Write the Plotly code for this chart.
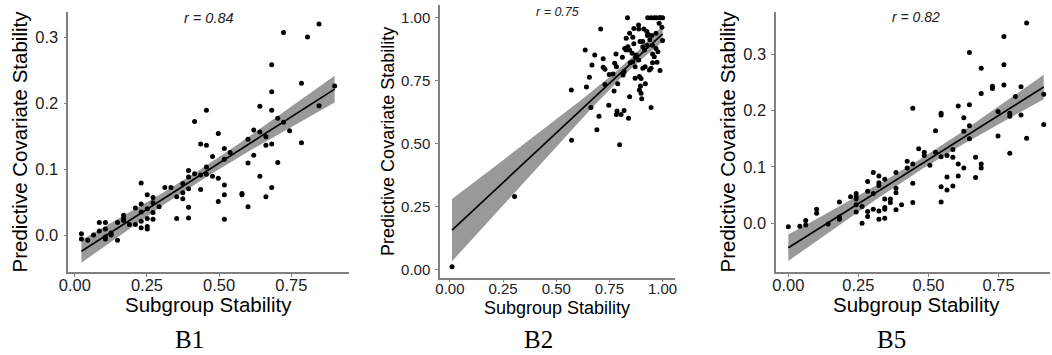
import numpy as np
import plotly.graph_objects as go

# ---------------- data ----------------
b1_x = [0.023, 0.023, 0.045, 0.065, 0.085, 0.085, 0.106, 0.106, 0.106, 0.106, 0.126, 0.126,
        0.148, 0.148, 0.169, 0.169, 0.169, 0.189, 0.210, 0.210, 0.230, 0.230, 0.230, 0.230,
        0.230, 0.251, 0.251, 0.251, 0.251, 0.251, 0.271, 0.271, 0.271, 0.271, 0.292, 0.312,
        0.333, 0.353, 0.353, 0.374, 0.374, 0.374, 0.394, 0.394, 0.394, 0.394, 0.394, 0.415,
        0.415, 0.436, 0.436, 0.436, 0.456, 0.456, 0.456, 0.456, 0.477, 0.477, 0.497, 0.497,
        0.497, 0.518, 0.518, 0.518, 0.518, 0.518, 0.538, 0.579, 0.579, 0.600, 0.600, 0.600,
        0.620, 0.620, 0.641, 0.641, 0.641, 0.662, 0.662, 0.662, 0.682, 0.682, 0.682, 0.682,
        0.682, 0.703, 0.703, 0.723, 0.723, 0.744, 0.785, 0.785, 0.806, 0.846, 0.846, 0.900]
b1_y = [0.002, -0.006, -0.008, 0.000, 0.019, 0.006, 0.019, 0.009, -0.003, -0.006, 0.003, 0.000,
        -0.008, 0.019, 0.030, 0.025, 0.022, 0.016, 0.041, 0.016, 0.079, 0.047, 0.035, 0.021,
        0.011, 0.061, 0.040, 0.025, 0.013, 0.009, 0.057, 0.049, 0.034, 0.024, 0.043, 0.072,
        0.072, 0.058, 0.025, 0.078, 0.064, 0.055, 0.098, 0.088, 0.070, 0.042, 0.026, 0.172,
        0.093, 0.138, 0.091, 0.069, 0.189, 0.136, 0.103, 0.092, 0.119, 0.089, 0.154, 0.086,
        0.051, 0.131, 0.115, 0.076, 0.061, 0.024, 0.125, 0.063, 0.061, 0.145, 0.109, 0.043,
        0.159, 0.121, 0.195, 0.156, 0.089, 0.149, 0.136, 0.058, 0.258, 0.217, 0.189, 0.138,
        0.072, 0.177, 0.110, 0.307, 0.171, 0.158, 0.230, 0.140, 0.300, 0.320, 0.196, 0.226]

b2_x = [0.835, 0.930, 0.945, 0.960, 0.970, 0.985, 0.990, 1.000,
        0.709, 0.636, 0.681, 0.721, 0.781, 0.811, 0.668, 0.721, 0.729, 0.775, 0.656, 0.749,
        0.729, 0.642, 0.571, 0.772, 0.789, 0.815, 0.814, 0.663, 0.747, 0.786, 0.783, 0.805,
        0.819, 0.840, 0.701, 0.691, 0.572, 0.798, 0.304, 0.010, 0.845, 0.865, 0.887, 0.888,
        0.912, 0.926, 0.933, 0.949, 0.929, 0.940, 0.969, 0.984, 0.997, 1.000, 0.829, 0.860,
        0.865, 0.837, 0.822, 0.829, 0.845, 0.857, 0.876, 0.907, 0.915, 0.927, 0.953, 0.969,
        0.978, 0.907, 0.894, 0.953, 0.961, 0.974, 0.953, 0.988, 0.938, 0.946, 0.918, 0.888,
        0.873, 0.860, 0.848, 0.907, 0.871, 0.891, 0.899, 0.896, 0.919, 0.891, 0.899, 0.902,
        0.845, 0.946, 0.871, 0.783, 0.767, 0.819]
b2_y = [1.000, 1.000, 1.000, 1.000, 1.000, 1.000, 1.000, 1.000,
        0.955, 0.872, 0.852, 0.837, 0.856, 0.843, 0.812, 0.803, 0.795, 0.819, 0.763, 0.774,
        0.735, 0.725, 0.713, 0.709, 0.737, 0.780, 0.772, 0.643, 0.652, 0.629, 0.615, 0.615,
        0.631, 0.600, 0.608, 0.555, 0.513, 0.495, 0.289, 0.010, 0.938, 0.957, 0.971, 0.955,
        0.955, 0.945, 0.933, 0.929, 0.929, 0.912, 0.938, 0.978, 0.962, 0.909, 0.918, 0.922,
        0.896, 0.885, 0.878, 0.872, 0.872, 0.859, 0.852, 0.885, 0.872, 0.891, 0.891, 0.878,
        0.865, 0.905, 0.905, 0.856, 0.845, 0.823, 0.821, 0.790, 0.792, 0.799, 0.805, 0.832,
        0.843, 0.825, 0.821, 0.799, 0.759, 0.766, 0.758, 0.729, 0.737, 0.713, 0.700, 0.678,
        0.686, 0.643, 0.805, 0.805, 0.776, 0.786]

b5_x = [0.000, 0.041, 0.062, 0.062, 0.101, 0.101, 0.142, 0.182, 0.182, 0.182, 0.222, 0.242,
        0.242, 0.242, 0.242, 0.242, 0.263, 0.263, 0.283, 0.283, 0.283, 0.283, 0.303, 0.303,
        0.303, 0.323, 0.323, 0.323, 0.323, 0.323, 0.344, 0.344, 0.344, 0.344, 0.344, 0.364,
        0.364, 0.384, 0.384, 0.384, 0.384, 0.404, 0.424, 0.424, 0.444, 0.444, 0.444, 0.444,
        0.465, 0.485, 0.485, 0.505, 0.525, 0.525, 0.545, 0.545, 0.545, 0.545, 0.545, 0.566,
        0.566, 0.566, 0.587, 0.587, 0.587, 0.606, 0.606, 0.606, 0.626, 0.626, 0.626, 0.646,
        0.646, 0.646, 0.646, 0.668, 0.668, 0.688, 0.688, 0.688, 0.688, 0.728, 0.728, 0.748,
        0.748, 0.769, 0.769, 0.769, 0.790, 0.790, 0.790, 0.810, 0.830, 0.830, 0.850, 0.850,
        0.911, 0.911]
b5_y = [-0.006, -0.005, 0.005, -0.003, 0.025, 0.018, -0.001, 0.038, 0.011, 0.007, 0.047, 0.053,
        0.047, 0.043, 0.033, 0.020, 0.030, 0.000, 0.074, 0.057, 0.021, 0.012, 0.090, 0.053,
        0.025, 0.084, 0.072, 0.067, 0.022, 0.007, 0.078, 0.043, 0.028, 0.025, 0.009, 0.043,
        0.037, 0.090, 0.062, 0.054, 0.024, 0.033, 0.110, 0.098, 0.204, 0.105, 0.071, 0.037,
        0.132, 0.126, 0.120, 0.103, 0.164, 0.126, 0.195, 0.192, 0.118, 0.065, 0.038, 0.120,
        0.082, 0.059, 0.131, 0.117, 0.066, 0.208, 0.105, 0.084, 0.187, 0.163, 0.098, 0.303,
        0.210, 0.173, 0.150, 0.117, 0.081, 0.275, 0.230, 0.105, 0.098, 0.243, 0.239, 0.198,
        0.155, 0.331, 0.281, 0.245, 0.195, 0.190, 0.124, 0.225, 0.242, 0.192, 0.355, 0.151,
        0.229, 0.175]

panel_labels = ["B1", "B2", "B5"]
r_labels = ["r = 0.84", "r = 0.75", "r = 0.82"]

x_tickvals_1 = [0.0, 0.25, 0.5, 0.75]
x_ticktext_1 = ["0.00", "0.25", "0.50", "0.75"]
y_tickvals_1 = [0.0, 0.1, 0.2, 0.3]
y_ticktext_1 = ["0.0", "0.1", "0.2", "0.3"]
x_tickvals_2 = [0.0, 0.25, 0.5, 0.75, 1.0]
x_ticktext_2 = ["0.00", "0.25", "0.50", "0.75", "1.00"]
y_tickvals_2 = [0.0, 0.25, 0.5, 0.75, 1.0]
y_ticktext_2 = ["0.00", "0.25", "0.50", "0.75", "1.00"]

x_title = "Subgroup Stability"
y_title = "Predictive Covariate Stability"

T_CRIT = 1.985  # 95% two-sided t quantile for ~96 df


def lm_band(x, y, npts=80):
    x = np.asarray(x, float)
    y = np.asarray(y, float)
    n = len(x)
    slope, icpt = np.polyfit(x, y, 1)
    grid = np.linspace(x.min(), x.max(), npts)
    fit = icpt + slope * grid
    resid = y - (icpt + slope * x)
    s = np.sqrt(np.sum(resid ** 2) / (n - 2))
    xm = x.mean()
    sxx = np.sum((x - xm) ** 2)
    se = s * np.sqrt(1.0 / n + (grid - xm) ** 2 / sxx)
    return grid, fit, fit - T_CRIT * se, fit + T_CRIT * se


fig = go.Figure()

panels = [
    dict(x=b1_x, y=b1_y, xa="x", ya="y",
         xdom=[59 / 1052, 343 / 1052], ydom=[1 - 272 / 355, 1 - 12 / 355],
         xr=[-0.0223, 0.950], yr=[-0.056, 0.338],
         xtv=x_tickvals_1, xtt=x_ticktext_1, ytv=y_tickvals_1, ytt=y_ticktext_1,
         tick=16.5, title=20.5, rsize=14.5, rx=201.7, ry=18, labx=182,
         tx=201, ty=304),
    dict(x=b2_x, y=b2_y, xa="x2", ya="y2",
         xdom=[435 / 1052, 673 / 1052], ydom=[1 - 277.7 / 355, 1 - 5 / 355],
         xr=[-0.0465, 1.060], yr=[-0.0334, 1.0505],
         xtv=x_tickvals_2, xtt=x_ticktext_2, ytv=y_tickvals_2, ytt=y_ticktext_2,
         tick=15, title=18, rsize=12.5, rx=554, ry=11.7, labx=535,
         tx=553.5, ty=308),
    dict(x=b5_x, y=b5_y, xa="x3", ya="y3",
         xdom=[775 / 1052, 1.0], ydom=[1 - 272 / 355, 1 - 12 / 355],
         xr=[-0.0434, 0.9334], yr=[-0.0863, 0.3746],
         xtv=x_tickvals_1, xtt=x_ticktext_1, ytv=y_tickvals_1, ytt=y_ticktext_1,
         tick=16.5, title=20.5, rsize=14, rx=916.7, ry=17.3, labx=891.7,
         tx=917, ty=304),
]

FONT = "Liberation Sans, Arial, sans-serif"
AXC = "#808080"

layout_axes = {}
annotations = []
for i, p in enumerate(panels):
    g, fit, lo, hi = lm_band(p["x"], p["y"])
    fig.add_trace(go.Scatter(
        x=np.concatenate([g, g[::-1]]), y=np.concatenate([lo, hi[::-1]]),
        fill="toself", fillcolor="rgb(153,153,153)", line=dict(width=0),
        mode="lines", hoverinfo="skip", showlegend=False,
        xaxis=p["xa"], yaxis=p["ya"]))
    fig.add_trace(go.Scatter(
        x=p["x"], y=p["y"], mode="markers",
        marker=dict(color="black", size=5), showlegend=False,
        xaxis=p["xa"], yaxis=p["ya"]))
    fig.add_trace(go.Scatter(
        x=g, y=fit, mode="lines", line=dict(color="black", width=1.6),
        showlegend=False, xaxis=p["xa"], yaxis=p["ya"]))

    suffix = "" if i == 0 else str(i + 1)
    common = dict(showgrid=False, zeroline=False, showline=True, linecolor=AXC,
                  linewidth=1.5, ticks="outside", ticklen=3, tickwidth=1,
                  tickcolor=AXC, tickfont=dict(family=FONT, size=p["tick"], color="#222"))
    layout_axes["xaxis" + suffix] = dict(
        common, domain=p["xdom"], range=p["xr"], tickvals=p["xtv"], ticktext=p["xtt"],
        anchor="y" + suffix, ticklabelstandoff=-6)
    layout_axes["yaxis" + suffix] = dict(
        common, domain=p["ydom"], range=p["yr"], tickvals=p["ytv"], ticktext=p["ytt"],
        anchor="x" + suffix, ticklabelstandoff=2,
        title=dict(text=y_title, font=dict(family=FONT, size=p["title"], color="black"),
                   standoff=2))
    # x-axis title, placed as an annotation for exact vertical position
    annotations.append(dict(
        text=x_title, xref="paper", yref="paper",
        x=p["tx"] / 1052, y=1 - p["ty"] / 355, xanchor="center", yanchor="middle",
        showarrow=False, font=dict(family=FONT, size=p["title"], color="black")))
    annotations.append(dict(
        text="<i>" + r_labels[i] + "</i>", xref="paper", yref="paper",
        x=p["rx"] / 1052, y=1 - p["ry"] / 355, xanchor="center", yanchor="middle",
        showarrow=False, font=dict(family=FONT, size=p["rsize"], color="#222")))
    annotations.append(dict(
        text=panel_labels[i], xref="paper", yref="paper",
        x=p["labx"] / 1052, y=0.0, xanchor="center", yanchor="bottom",
        showarrow=False, font=dict(family="Liberation Serif, serif", size=25, color="black")))

fig.update_layout(
    width=1052, height=355, margin=dict(l=0, r=0, t=0, b=0),
    paper_bgcolor="white", plot_bgcolor="white",
    annotations=annotations, **layout_axes)

fig.write_html("out.html")
